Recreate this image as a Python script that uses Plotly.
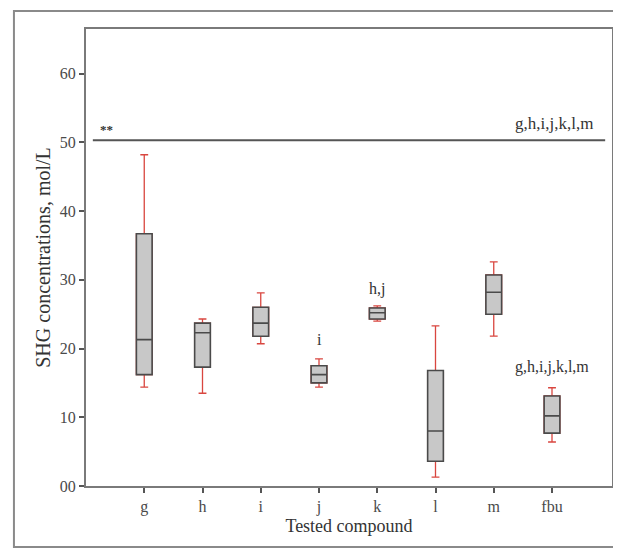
import plotly.graph_objects as go

# ---- data ----
categories = ["g", "h", "i", "j", "k", "l", "m", "fbu"]
upper_whisker = [48.2, 24.3, 28.1, 18.5, 26.2, 23.3, 32.6, 14.3]
q3_values = [36.7, 23.7, 26.0, 17.5, 25.9, 16.8, 30.7, 13.1]
medians = [21.3, 22.3, 23.7, 16.2, 25.2, 8.0, 28.2, 10.2]
q1_values = [16.2, 17.3, 21.8, 15.0, 24.3, 3.6, 25.0, 7.7]
lower_whisker = [14.4, 13.5, 20.7, 14.4, 24.0, 1.3, 21.8, 6.4]

ref_level = 50.3
ref_label = "g,h,i,j,k,l,m"
ref_mark = "**"

label_cats = ["j", "k", "fbu"]
label_texts = ["i", "h,j", "g,h,i,j,k,l,m"]
label_y = [21.3, 28.6, 17.3]

y_tickvals = [0, 10, 20, 30, 40, 50, 60]
y_ticktext = ["00", "10", "20", "30", "40", "50", "60"]

FONT = "Liberation Serif"
RED = "#d9463f"
EDGE = "#4a4a4a"
FILL = "#c8c8c8"

fig = go.Figure()

# whiskers (red)
fig.add_trace(go.Box(
    x=categories, q1=q1_values, median=medians, q3=q3_values,
    lowerfence=lower_whisker, upperfence=upper_whisker,
    line=dict(color=RED, width=1.3), fillcolor="rgba(0,0,0,0)",
    width=0.27, whiskerwidth=0.5, boxpoints=False, showlegend=False,
    hoverinfo="skip",
))
# boxes (gray)
fig.add_trace(go.Box(
    x=categories, q1=q1_values, median=medians, q3=q3_values,
    lowerfence=q1_values, upperfence=q3_values,
    line=dict(color=EDGE, width=1.6), fillcolor=FILL,
    width=0.27, whiskerwidth=0, boxpoints=False, showlegend=False,
))

# reference line
fig.add_shape(type="line", xref="paper", yref="y", x0=0.013, x1=0.987,
              y0=ref_level, y1=ref_level, line=dict(color="#555555", width=2))

# outer frame
fig.add_shape(type="rect", xref="paper", yref="paper",
              x0=-0.137, x1=1.1, y0=-0.1335, y1=1.0394,
              line=dict(color="#8a8a8a", width=2), layer="below")

annotations = [
    dict(x=0.022, y=ref_level + 1.6, xref="paper", yref="y", text="<b>" + ref_mark + "</b>",
         showarrow=False, xanchor="left", yanchor="middle",
         font=dict(family=FONT, size=13, color="#333")),
    dict(x=0.968, y=ref_level + 2.5, xref="paper", yref="y", text=ref_label,
         showarrow=False, xanchor="right", yanchor="middle",
         font=dict(family=FONT, size=17, color="#333")),
]
for c, t, yv in zip(label_cats, label_texts, label_y):
    annotations.append(dict(x=c, y=yv, xref="x", yref="y", text=t,
                            showarrow=False, xanchor="center", yanchor="middle",
                            font=dict(family=FONT, size=16, color="#333")))

axis_common = dict(showline=True, mirror=True, linecolor="#7a7a7a", linewidth=2,
                   ticks="outside", ticklen=5, tickwidth=1.5, tickcolor="#555",
                   showgrid=False, zeroline=False, automargin=False,
                   tickfont=dict(family=FONT, size=16, color="#4a4a4a"))

fig.update_layout(
    width=621, height=550,
    margin=dict(l=78, r=17, t=21, b=72),
    paper_bgcolor="white", plot_bgcolor="white",
    boxmode="overlay",
    annotations=annotations,
    xaxis=dict(**axis_common, type="category", range=[-1, 8.03],
               categoryorder="array", categoryarray=categories,
               title=dict(text="Tested compound", standoff=0,
                          font=dict(family=FONT, size=18, color="#333"))),
    yaxis=dict(**axis_common, range=[0, 66.5], tickvals=y_tickvals, ticktext=y_ticktext,
               title=dict(text="SHG concentrations, mol/L", standoff=4,
                          font=dict(family=FONT, size=20, color="#333"))),
)

fig.write_html("out.html")
